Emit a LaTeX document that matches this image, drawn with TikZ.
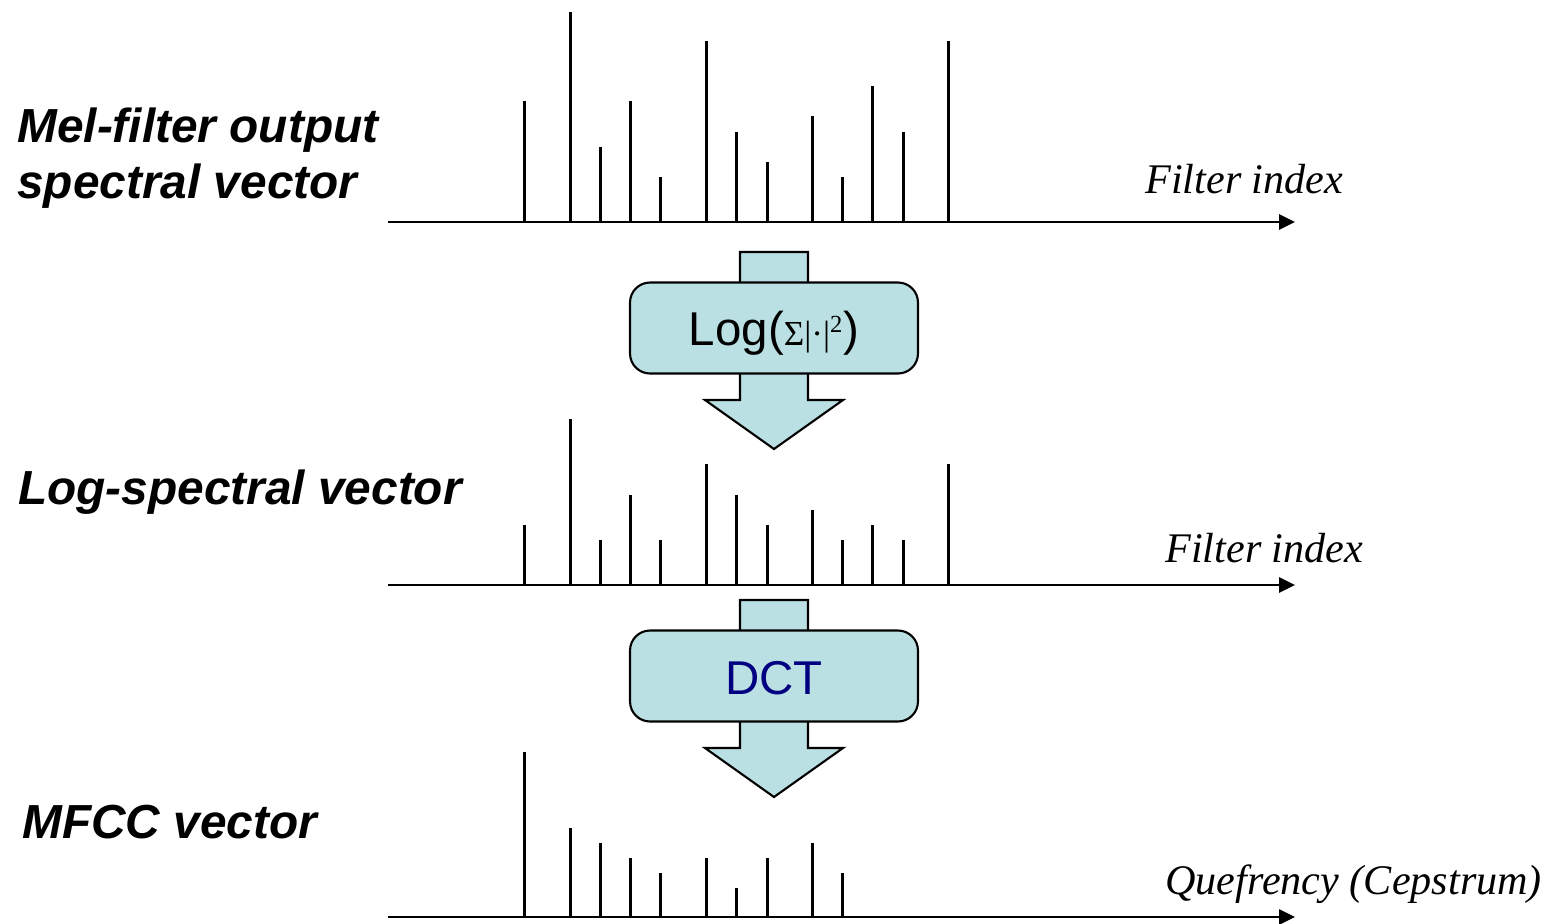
\documentclass[tikz,border=0pt]{standalone}
\usepackage{fontspec}
\setmainfont{Liberation Serif}
\setsansfont{Liberation Sans}
\usetikzlibrary{arrows.meta}
\definecolor{boxblue}{RGB}{187,224,227}
\definecolor{dctnavy}{RGB}{0,0,128}

\begin{document}
\begin{tikzpicture}[x=0.02cm, y=-0.02cm,
	every node/.style={inner sep=0pt},
	axis/.style={line width=1.3pt, -{Triangle[length=9pt, width=8.5pt]}},
	stem/.style={line width=1.7pt},
	vecname/.style={anchor=base west, font=\sffamily\bfseries\itshape\fontsize{27.2}{33}\selectfont},
	axisname/.style={anchor=base west, font=\itshape\fontsize{24}{29}\selectfont},
	blockarrow/.style={draw, line width=1.2pt, fill=boxblue, line join=miter},
	opbox/.style={draw, line width=1.2pt, fill=boxblue, rounded corners=0.4cm, minimum width=5.76cm, minimum height=1.82cm, font=\sffamily\fontsize{27}{33}\selectfont}]
	\useasboundingbox (0,0) rectangle (1548,923);
	\foreach \dy in {0,348}
		\draw[blockarrow, shift={(0,\dy)}] (740,252) -- (808,252) -- (808,400) -- (843,400) -- (774,449) -- (705,400) -- (740,400) -- cycle;
	\node[opbox] (logop) at (774,328) {\raisebox{-3pt}[\height][\depth]{Log({\rmfamily\fontsize{20}{24}\selectfont Σ|·|\textsuperscript{2}})}};
	\node[opbox, text=dctnavy] (dct) at (774,676) {\raisebox{-1pt}[\height][\depth]{DCT}};
	\coordinate (melstart) at (388,222);
	\coordinate (melend) at (1295,222);
	\coordinate (logstart) at (388,585);
	\coordinate (logend) at (1295,585);
	\coordinate (mfccstart) at (388,917);
	\coordinate (mfccend) at (1295,917);
	\foreach \x/\h in {524/101, 570/12, 600/147, 630/101, 660/177, 706/41, 736/132, 767/162, 812/116, 842/177, 872/86, 903/132, 948/41}
		\draw[stem] (\x,222) -- (\x,\h);
	\foreach \x/\h in {524/525, 570/419, 600/540, 630/495, 660/540, 706/464, 736/495, 767/525, 812/510, 842/540, 872/525, 903/540, 948/464}
		\draw[stem] (\x,585) -- (\x,\h);
	\foreach \x/\h in {524/752, 570/828, 600/843, 630/858, 660/873, 706/858, 736/888, 767/858, 812/843, 842/873}
		\draw[stem] (\x,917) -- (\x,\h);
	\draw[axis] (melstart) -- (melend);
	\draw[axis] (logstart) -- (logend);
	\draw[axis] (mfccstart) -- (mfccend);
	\node[vecname] (melname) at (17,142) {Mel-filter output};
	\node[vecname] (melname2) at (17,198) {spectral vector};
	\node[vecname] (logname) at (18,504) {Log-spectral vector};
	\node[vecname] (mfccname) at (22,838) {MFCC vector};
	\node[axisname] (melaxis) at (1145,193) {Filter index};
	\node[axisname] (logaxis) at (1165,562) {Filter index};
	\node[axisname] (mfccaxis) at (1165,894) {Quefrency (Cepstrum)};
\end{tikzpicture}
\end{document}
